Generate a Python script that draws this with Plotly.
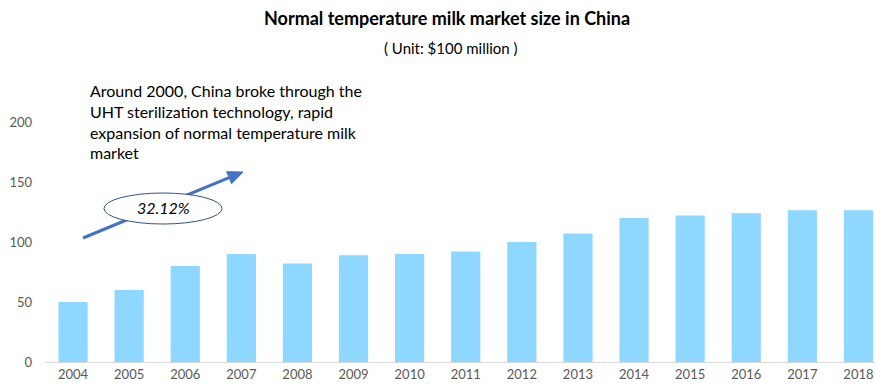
import plotly.graph_objects as go

years = ["2004", "2005", "2006", "2007", "2008", "2009", "2010", "2011",
         "2012", "2013", "2014", "2015", "2016", "2017", "2018"]
market_size = [50, 60, 80, 90, 82, 89, 90, 92, 100, 107, 120, 122, 124, 126.5, 126.5]
y_ticks = [0, 50, 100, 150, 200]

W, H = 875, 389
L, R, T, B = 45, 0, 122, 27
pw, ph = W - L - R, H - T - B

def px(x):
    return (x - L) / pw

def py(y):
    return (H - B - y) / ph

FONT = "Lato, Carlito, Calibri, sans-serif"

fig = go.Figure(go.Bar(
    x=list(range(len(years))), y=market_size,
    marker=dict(color="#8ED7FF", line=dict(width=0)),
    width=0.52,
))

# arrow: line then head then ellipse over it
x0a, y0a, x1a, y1a = 83, 238, 243, 172
dx, dy = x1a - x0a, y1a - y0a
ln = (dx**2 + dy**2) ** 0.5
ux, uy = dx / ln, dy / ln
nx, ny = -uy, ux
hl, hw = 15, 6.5
bx, by = x1a - hl * ux, y1a - hl * uy
shapes = [
    dict(type="line", xref="paper", yref="paper",
         x0=px(x0a), y0=py(y0a), x1=px(bx), y1=py(by),
         line=dict(color="#4472C4", width=3), layer="above"),
    dict(type="path", xref="paper", yref="paper",
         path=f"M {px(x1a)},{py(y1a)} L {px(bx + hw*nx)},{py(by + hw*ny)} "
              f"L {px(bx - hw*nx)},{py(by - hw*ny)} Z",
         fillcolor="#4472C4", line=dict(color="#4472C4", width=1), layer="above"),
    dict(type="circle", xref="paper", yref="paper",
         x0=px(104), x1=px(222), y0=py(224), y1=py(193),
         fillcolor="white", line=dict(color="#2F528F", width=1), layer="above"),
]

annotations = [
    dict(text="<b>Normal temperature milk market size in China</b>",
         xref="paper", yref="paper", x=px(447), y=py(18), showarrow=False,
         font=dict(family=FONT, size=18, color="#000000"), xanchor="center", yanchor="middle"),
    dict(text="( Unit: $100 million )",
         xref="paper", yref="paper", x=px(451), y=py(48), showarrow=False,
         font=dict(family=FONT, size=15, color="#000000"), xanchor="center", yanchor="middle"),
    dict(text="Around 2000, China broke through the<br>UHT sterilization technology, rapid<br>"
              "expansion of normal temperature milk<br>market",
         xref="paper", yref="paper", x=px(88), y=py(79), showarrow=False, align="left",
         font=dict(family=FONT, size=16, color="#000000"), xanchor="left", yanchor="top"),
    dict(text="<i>32.12%</i>",
         xref="paper", yref="paper", x=px(163), y=py(207), showarrow=False,
         font=dict(family=FONT, size=16, color="#000000"), xanchor="center", yanchor="middle"),
]

fig.update_layout(
    width=W, height=H,
    margin=dict(l=L, r=R, t=T, b=B, pad=0),
    paper_bgcolor="white", plot_bgcolor="white",
    showlegend=False,
    shapes=shapes, annotations=annotations,
    font=dict(family=FONT, color="#595959", size=13),
    xaxis=dict(
        range=[-0.5, -0.5 + pw / 56.1],
        tickmode="array", tickvals=list(range(len(years))), ticktext=years,
        showline=True, linecolor="#D9D9D9", linewidth=1,
        showgrid=False, zeroline=False, ticks="", ticklen=0,
        tickfont=dict(size=13, color="#595959"),
    ),
    yaxis=dict(
        range=[0, 200], tickvals=y_ticks,
        showgrid=False, zeroline=False, showline=False, ticks="",
        tickfont=dict(size=13, color="#595959"), ticklabelstandoff=12,
    ),
)

fig.write_html("out.html")
